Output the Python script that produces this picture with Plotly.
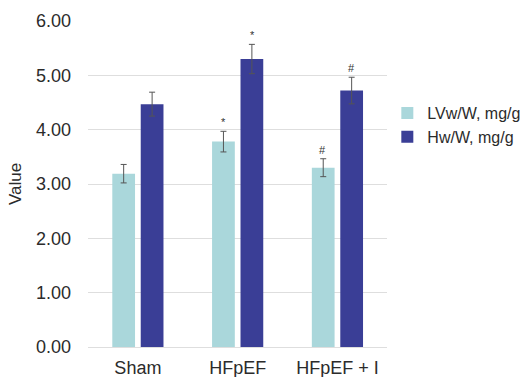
import plotly.graph_objects as go

categories = ["Sham", "HFpEF", "HFpEF + I"]
lv_values = [3.19, 3.78, 3.30]
lv_errors = [0.17, 0.19, 0.165]
hw_values = [4.47, 5.30, 4.72]
hw_errors = [0.22, 0.27, 0.245]
lv_marks = ["", "*", "#"]
hw_marks = ["", "*", "#"]
y_ticks = [0, 1, 2, 3, 4, 5, 6]

fig = go.Figure()
fig.add_trace(go.Bar(
    x=categories, y=lv_values, name="LVw/W, mg/g",
    marker=dict(color="#aad7db", line=dict(width=0)),
    error_y=dict(type="data", array=lv_errors, color="#555555", thickness=1, width=3),
))
fig.add_trace(go.Bar(
    x=categories, y=hw_values, name="Hw/W, mg/g",
    marker=dict(color="#3a3e96", line=dict(width=0)),
    error_y=dict(type="data", array=hw_errors, color="#555555", thickness=1, width=3),
))

annotations = []
for i, c in enumerate(categories):
    for vals, errs, marks, off in [(lv_values, lv_errors, lv_marks, -0.145), (hw_values, hw_errors, hw_marks, 0.145)]:
        if marks[i]:
            annotations.append(dict(
                x=i + off, y=vals[i] + errs[i], xref="x", yref="y",
                text=marks[i], showarrow=False, yanchor="bottom", yshift=1,
                font=dict(family="Liberation Sans, Arial", size=11, color="#333333"),
            ))

fig.update_layout(
    width=522, height=377,
    margin=dict(l=88, r=128, t=21, b=30),
    paper_bgcolor="white", plot_bgcolor="white",
    barmode="group", bargap=0.43, bargroupgap=0.2,
    font=dict(family="Liberation Sans, Arial", size=18, color="#2b2b2b"),
    showlegend=True,
    legend=dict(xref="container", yref="container", x=0.742, y=0.668,
                xanchor="left", yanchor="middle",
                font=dict(size=16, color="#2b2b2b"), tracegroupgap=0,
                itemwidth=30, bgcolor="rgba(0,0,0,0)"),
    annotations=annotations,
    xaxis=dict(showline=False, ticks="", showgrid=False, tickfont=dict(size=18),
               range=[-0.5, 2.5], automargin=False, ticklabelstandoff=8),
    yaxis=dict(range=[0, 6], tickvals=y_ticks, tickformat=".2f",
               showgrid=True, gridcolor="#dedede", gridwidth=1,
               zeroline=True, zerolinecolor="#dedede", zerolinewidth=1,
               showline=False, ticks="", tickfont=dict(size=18),
               automargin=False, ticklabelstandoff=16,
               title=dict(text="Value", font=dict(size=17), standoff=10)),
)

fig.write_html("out.html", config={"displayModeBar": False},
               post_script="document.body.style.margin='0';document.body.style.overflow='hidden';")
